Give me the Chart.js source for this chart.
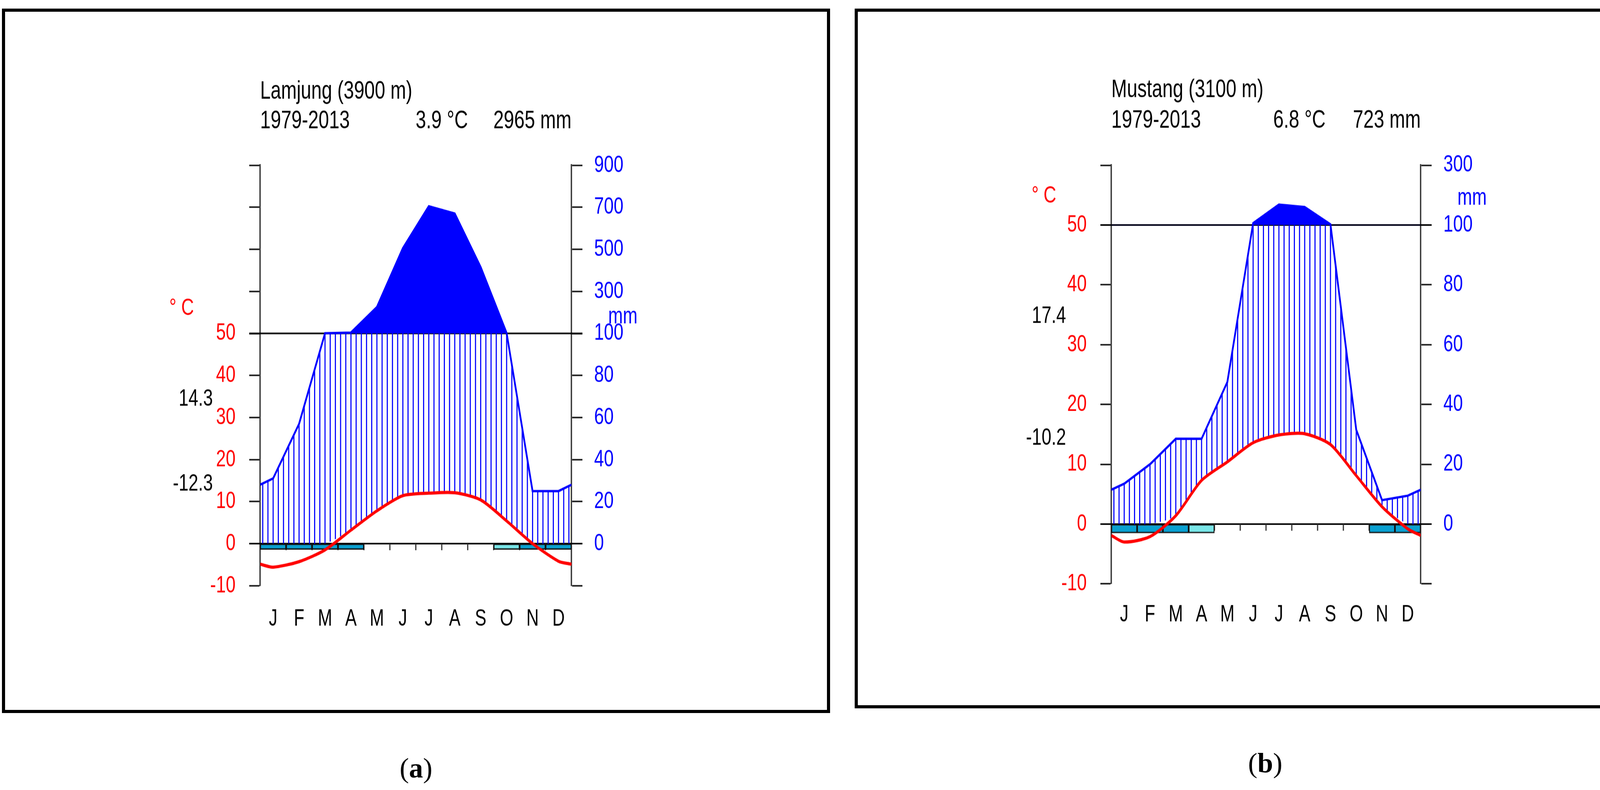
<!DOCTYPE html>
<html>
<head>
<meta charset="utf-8">
<script src="https://cdn.jsdelivr.net/npm/chart.js@4.4.1/dist/chart.umd.min.js"></script>
<style>
  html, body { margin: 0; padding: 0; background: #fff; }
  body { width: 4303px; height: 2022px; position: relative; overflow: hidden; }
  .panel { position: absolute; border: 8px solid #000; box-sizing: border-box; }
  .wrap { position: absolute; transform-origin: 0 0; transform: scaleY(1.35); }
  .tag { position: absolute; width: 200px; text-align: center; font-family: "Liberation Serif", "Times New Roman", serif; font-size: 72px; line-height: 72px; }
</style>
</head>
<body>
<div class="panel" style="left:5px;top:22px;width:2120px;height:1803px"></div>
<div class="panel" style="left:2188px;top:22px;width:2102px;height:1791px"></div>
<div class="wrap" style="left:366px;top:150px;width:1397px;height:1133px"><canvas id="chartA"></canvas></div>
<div class="wrap" style="left:2545px;top:150px;width:1392px;height:1133px"><canvas id="chartB"></canvas></div>
<div class="tag" style="left:965px;top:1930px">(<b>a</b>)</div>
<div class="tag" style="left:3139px;top:1917px">(<b>b</b>)</div>
<script>
// ------------------------------------
// Data.
const months = ["J", "F", "M", "A", "M", "J", "J", "A", "S", "O", "N", "D"];

// (a) Lamjung
const lamjungTemp = [-5.6, -4.3, -1.5, 3.2, 7.8, 11.4, 12.0, 12.1, 10.4, 5.4, 0.0, -4.2]; // °C
const lamjungPrec = [31, 57, 101, 104, 225, 505, 705, 670, 415, 102, 25, 25]; // mm
const lamjungFrost = [2, 2, 2, 2, 0, 0, 0, 0, 0, 1, 2, 2]; // 2 sure, 1 probable
const lamjungTickValues = [-10, 0, 10, 20, 30, 40, 50, 60, 70, 80, 90];
const lamjungLeftLabels = ["-10", "0", "10", "20", "30", "40", "50", "", "", "", ""];
const lamjungRightLabels = ["", "0", "20", "40", "60", "80", "100", "300", "500", "700", "900"];

// (b) Mustang
const mustangTemp = [-3.0, -2.1, 1.4, 7.3, 10.4, 13.6, 14.9, 15.1, 13.3, 8.1, 2.9, -0.8];
const mustangPrec = [13.5, 20, 28.5, 28.5, 47.5, 106, 168, 160, 102, 31.5, 8, 9.5];
const mustangFrost = [2, 2, 2, 1, 0, 0, 0, 0, 0, 0, 2, 2];
const mustangTickValues = [-10, 0, 10, 20, 30, 40, 50, 60];
const mustangLeftLabels = ["-10", "0", "10", "20", "30", "40", "50", ""];
const mustangRightLabels = ["", "0", "20", "40", "60", "80", "100", "300"];

const FONT = '"Liberation Sans", Arial, Helvetica, sans-serif';
const sureFrost = "#09a0d1";
const probFrost = "#79e6e8";
Chart.defaults.font.family = FONT;

// mm -> position on the temperature axis (10 °C = 20 mm, above 100 mm 10 °C = 200 mm)
function precToAxis(mm) {
  return mm <= 100 ? mm / 2 : 50 + (mm - 100) / 20;
}

// monthly values at month centres, closed at both edges with the Dec/Jan mean
function withEdges(vals) {
  const edge = (vals[0] + vals[11]) / 2;
  const pts = [{ x: 0, y: edge }];
  for (let i = 0; i < vals.length; i++) pts.push({ x: i + 0.5, y: vals[i] });
  pts.push({ x: 12, y: edge });
  return pts;
}

function makeHatch(canvas, width, left, plotW) {
  let tile = document.createElement("canvas");
  tile.width = width;
  tile.height = 2;
  let t = tile.getContext("2d");
  t.fillStyle = "#0000ff";
  for (let k = 0; k < 60; k++) {
    let cx = left + (k + 0.5) * plotW / 60;
    t.fillRect(cx - 1.4, 0, 2.8, 2);
  }
  return canvas.getContext("2d").createPattern(tile, "repeat");
}

// Axis lines at 0 and 50, month marks and the texts round the plot.
const decor = {
  id: "decor",
  beforeDatasetsDraw(chart, args, o) {
    const { ctx, chartArea: a, scales } = chart;
    const x = scales.x, y = scales.y;
    ctx.save();
    ctx.strokeStyle = "#000";
    ctx.lineWidth = 3;
    [0, 50].forEach((v) => {
      let py = y.getPixelForValue(v);
      ctx.beginPath();
      ctx.moveTo(a.left - 28, py);
      ctx.lineTo(a.right + 28, py);
      ctx.stroke();
    });
    ctx.strokeStyle = "#333";
    let py0 = y.getPixelForValue(0);
    for (let m = 1; m < 12; m++) {
      let px = x.getPixelForValue(m);
      ctx.beginPath();
      ctx.moveTo(px, py0);
      ctx.lineTo(px, py0 + 12.5);
      ctx.stroke();
    }
    ctx.restore();
  },
  afterDraw(chart, args, o) {
    const { ctx, chartArea: a, scales } = chart;
    const y = scales.y;
    ctx.save();
    ctx.fillStyle = "#000";
    ctx.font = "48px " + FONT;
    ctx.textBaseline = "alphabetic";
    ctx.textAlign = "left";
    ctx.fillText(o.name, a.left, o.titleY1);
    ctx.fillText(o.period, a.left, o.titleY2);
    ctx.fillText(o.meanT, a.left + o.meanTX, o.titleY2);
    ctx.textAlign = "right";
    ctx.fillText(o.totalP, a.right, o.titleY2);

    ctx.font = "45px " + FONT;
    ctx.textBaseline = "middle";
    ctx.fillStyle = "#ff0000";
    ctx.fillText("° C", a.left - o.degOff, y.getPixelForValue(o.degY));
    ctx.fillStyle = "#000";
    ctx.fillText(o.maxLabel, a.left - o.extOff, y.getPixelForValue(o.maxY));
    ctx.fillText(o.minLabel, a.left - o.extOff, y.getPixelForValue(o.minY));
    ctx.fillStyle = "#0000ff";
    ctx.textAlign = "left";
    ctx.fillText("mm", a.right + 94, y.getPixelForValue(o.mmY));
    ctx.restore();
  },
};

function makeChart(id, cfg) {
  let canvas = document.getElementById(id);
  let tempPts = withEdges(cfg.temp);
  let precPts = withEdges(cfg.prec).map((p) => ({ x: p.x, y: precToAxis(p.y) }));
  let hatchPts = precPts.map((p) => ({ x: p.x, y: Math.min(p.y, 50) }));
  let floorPts = tempPts.map((p) => ({ x: p.x, y: Math.max(p.y, 0) }));
  let frostPts = [];
  let frostCols = [];
  for (let i = 0; i < cfg.frost.length; i++) {
    if (cfg.frost[i] > 0) {
      frostPts.push({ x: i + 0.5, y: [-cfg.frostDepth, 0] });
      frostCols.push(cfg.frost[i] === 2 ? sureFrost : probFrost);
    }
  }
  let hatch = makeHatch(canvas, cfg.width, 300, cfg.width - 600);
  let lo = cfg.ticks[0], hi = cfg.ticks[cfg.ticks.length - 1];

  return new Chart(canvas, {
    type: "line",
    data: {
      datasets: [
        { // 0 temperature
          data: tempPts, borderColor: "#ff0000", borderWidth: 6, pointRadius: 0,
          tension: 0.25, fill: false,
        },
        { // 1 frost months
          type: "bar", data: frostPts, backgroundColor: frostCols, borderColor: "#111",
          borderWidth: 2.5, borderSkipped: false, barPercentage: 1, categoryPercentage: 1,
        },
        { // 2 precipitation, solid above 100 mm
          data: precPts, borderColor: "#0000ff", borderWidth: 4.5, pointRadius: 0, tension: 0,
          fill: { target: { value: 50 }, above: "#0000ff", below: "rgba(0,0,0,0)" },
        },
        { // 3 humid period hatching
          data: hatchPts, borderWidth: 0, borderColor: "rgba(0,0,0,0)", pointRadius: 0, tension: 0,
          fill: { target: 4, above: hatch, below: "rgba(0,0,0,0)" },
        },
        { // 4 lower edge of hatching
          data: floorPts, borderWidth: 0, borderColor: "rgba(0,0,0,0)", pointRadius: 0,
          tension: 0.25, fill: false,
        },
      ],
    },
    options: {
      responsive: true,
      maintainAspectRatio: false,
      animation: false,
      events: [],
      layout: { padding: { top: cfg.padTop, left: 0, right: 0, bottom: 0 } },
      plugins: {
        legend: { display: false },
        tooltip: { enabled: false },
        decor: cfg.text,
      },
      scales: {
        x: {
          type: "linear", min: 0, max: 12, offset: false,
          afterBuildTicks: (s) => { s.ticks = months.map((m, i) => ({ value: i + 0.5 })); },
          afterFit: (s) => { s.height = cfg.xHeight; },
          ticks: {
            autoSkip: false, maxRotation: 0, padding: cfg.xPad, color: "#000",
            font: { size: 44 }, callback: (v, i) => months[i],
          },
          grid: { display: false, drawTicks: false },
          border: { display: false },
        },
        y: {
          position: "left", min: lo, max: hi,
          afterBuildTicks: (s) => { s.ticks = cfg.ticks.map((v) => ({ value: v })); },
          afterFit: (s) => { s.width = 300; },
          ticks: { color: "#ff0000", padding: 35, font: { size: 45 }, callback: (v, i) => cfg.leftLabels[i] },
          grid: { drawOnChartArea: false, drawTicks: true, tickLength: 28, tickWidth: 3, tickColor: "#222" },
          border: { display: true, color: "#3a3a3a", width: 3.5 },
        },
        y2: {
          position: "right", min: lo, max: hi,
          afterBuildTicks: (s) => { s.ticks = cfg.ticks.map((v) => ({ value: v })); },
          afterFit: (s) => { s.width = 300; },
          ticks: { color: "#0000ff", padding: 30, font: { size: 45 }, callback: (v, i) => cfg.rightLabels[i] },
          grid: { drawOnChartArea: false, drawTicks: true, tickLength: 28, tickWidth: 3, tickColor: "#222" },
          border: { display: true, color: "#3a3a3a", width: 3.5 },
        },
      },
    },
    plugins: [decor],
  });
}

makeChart("chartA", {
  temp: lamjungTemp, prec: lamjungPrec, frost: lamjungFrost, frostDepth: 1.4,
  ticks: lamjungTickValues, leftLabels: lamjungLeftLabels, rightLabels: lamjungRightLabels,
  width: 1397, padTop: 202.2, xHeight: 133.8, xPad: 37.6,
  text: {
    name: "Lamjung (3900 m)", period: "1979-2013", meanT: "3.9 °C", totalP: "2965 mm",
    maxLabel: "14.3", minLabel: "-12.3",
    titleY1: 76.3, titleY2: 131.9, meanTX: 398, degOff: 169.5, degY: 56, mmY: 54,
    extOff: 121, maxY: 34.4, minY: 14.2,
  },
});

makeChart("chartB", {
  temp: mustangTemp, prec: mustangPrec, frost: mustangFrost, frostDepth: 1.5,
  ticks: mustangTickValues, leftLabels: mustangLeftLabels, rightLabels: mustangRightLabels,
  width: 1392, padTop: 202.0, xHeight: 137.1, xPad: 32.5,
  text: {
    name: "Mustang (3100 m)", period: "1979-2013", meanT: "6.8 °C", totalP: "723 mm",
    maxLabel: "17.4", minLabel: "-10.2",
    titleY1: 73.3, titleY2: 131.1, meanTX: 414.5, degOff: 141, degY: 54.8, mmY: 54.5,
    extOff: 116, maxY: 34.7, minY: 14.4,
  },
});
</script>
</body>
</html>
